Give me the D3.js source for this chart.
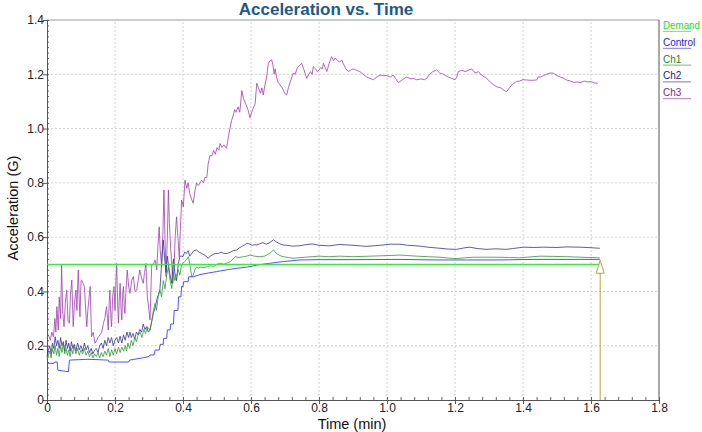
<!DOCTYPE html>
<html>
<head>
<meta charset="utf-8">
<script src="https://cdn.jsdelivr.net/npm/d3@7"></script>
<style>
  body { margin: 0; background: #fff; }
  text { font-family: "Liberation Sans", Arial, sans-serif; }
</style>
</head>
<body>
<svg class="accChart"></svg>
<script>
// data (time in min, acceleration in G)
var xTicks = [0, 0.2, 0.4, 0.6, 0.8, 1.0, 1.2, 1.4, 1.6, 1.8];
var yTicks = [0, 0.2, 0.4, 0.6, 0.8, 1.0, 1.2, 1.4];
var seriesNames = ["Demand", "Control", "Ch1", "Ch2", "Ch3"];

var demand = [[0, 0.5], [1.627, 0.5]];

var control = [[0,0.135],[0.02,0.135],[0.022,0.14],[0.03,0.14],[0.032,0.11],[0.063,0.104],[0.066,0.147],[0.12,0.15],
  [0.18,0.147],[0.183,0.14],[0.24,0.14],[0.243,0.147],[0.28,0.155],[0.30,0.16],[0.303,0.166],[0.315,0.166],[0.318,0.184],
  [0.33,0.184],[0.333,0.205],[0.342,0.205],[0.343,0.227],[0.352,0.227],[0.354,0.258],[0.362,0.258],[0.364,0.28],[0.372,0.28],
  [0.374,0.33],[0.385,0.33],[0.387,0.38],[0.394,0.38],[0.396,0.418],[0.40,0.418],[0.402,0.436],[0.415,0.436],[0.417,0.454],
  [0.43,0.454],[0.45,0.462],[0.475,0.468],[0.499,0.473],[0.53,0.48],[0.558,0.485],[0.59,0.49],[0.617,0.497],[0.65,0.503],
  [0.695,0.51],[0.744,0.516],[0.8,0.517],[0.9,0.517],[1.038,0.518],[1.136,0.516],[1.234,0.516],[1.33,0.516],[1.43,0.518],[1.626,0.518]];

var ch1 = [[0,0.15],[0.004,0.166],[0.008,0.18],[0.012,0.155],[0.016,0.19],[0.02,0.17],[0.024,0.20],[0.028,0.165],[0.032,0.19],
  [0.036,0.16],[0.04,0.2],[0.044,0.175],[0.048,0.21],[0.052,0.17],[0.056,0.19],[0.06,0.165],[0.064,0.185],[0.068,0.16],[0.072,0.19],
  [0.076,0.17],[0.08,0.2],[0.085,0.17],[0.09,0.19],[0.095,0.165],[0.1,0.185],[0.105,0.17],[0.11,0.19],[0.115,0.165],[0.12,0.18],
  [0.125,0.16],[0.13,0.175],[0.135,0.155],[0.14,0.17],[0.145,0.16],[0.15,0.175],[0.155,0.155],[0.16,0.175],[0.165,0.16],[0.17,0.18],
  [0.175,0.165],[0.18,0.19],[0.185,0.16],[0.19,0.185],[0.195,0.165],[0.20,0.19],[0.205,0.17],[0.21,0.195],[0.215,0.175],[0.22,0.195],
  [0.225,0.18],[0.23,0.20],[0.234,0.18],[0.238,0.21],[0.243,0.19],[0.248,0.22],[0.253,0.20],[0.258,0.23],[0.263,0.215],[0.268,0.24],
  [0.274,0.25],[0.279,0.23],[0.285,0.26],[0.29,0.245],[0.295,0.27],[0.303,0.258],[0.308,0.29],[0.313,0.33],[0.318,0.356],[0.322,0.33],
  [0.327,0.38],[0.332,0.405],[0.337,0.38],[0.342,0.44],[0.347,0.41],[0.352,0.46],[0.357,0.49],[0.362,0.44],[0.367,0.41],[0.372,0.47],
  [0.376,0.44],[0.381,0.454],[0.386,0.48],[0.391,0.46],[0.396,0.50],[0.40,0.504],[0.405,0.51],[0.41,0.516],[0.416,0.528],[0.42,0.50],
  [0.426,0.454],[0.43,0.46],[0.435,0.48],[0.44,0.49],[0.445,0.485],[0.45,0.49],[0.46,0.488],[0.47,0.49],[0.48,0.495],[0.49,0.492],
  [0.5,0.50],[0.509,0.504],[0.52,0.50],[0.53,0.505],[0.54,0.51],[0.553,0.528],[0.565,0.525],[0.578,0.528],[0.587,0.53],[0.597,0.534],
  [0.61,0.53],[0.626,0.528],[0.64,0.53],[0.655,0.54],[0.666,0.553],[0.675,0.54],[0.685,0.532],[0.695,0.528],[0.71,0.525],[0.724,0.522],
  [0.74,0.524],[0.76,0.526],[0.78,0.528],[0.80,0.53],[0.83,0.528],[0.86,0.53],[0.90,0.528],[0.95,0.53],[1.0,0.532],[1.038,0.534],
  [1.087,0.53],[1.12,0.528],[1.156,0.526],[1.18,0.523],[1.205,0.521],[1.23,0.524],[1.254,0.526],[1.29,0.526],[1.323,0.526],[1.36,0.525],
  [1.39,0.524],[1.42,0.527],[1.45,0.53],[1.49,0.529],[1.528,0.528],[1.57,0.526],[1.6,0.525],[1.626,0.524]];

var ch2 = [[0,0.16],[0.004,0.184],[0.008,0.20],[0.012,0.17],[0.016,0.21],[0.02,0.19],[0.024,0.233],[0.028,0.20],[0.032,0.22],
  [0.036,0.19],[0.04,0.23],[0.044,0.20],[0.048,0.215],[0.052,0.18],[0.056,0.22],[0.06,0.19],[0.064,0.21],[0.068,0.18],[0.072,0.215],
  [0.076,0.19],[0.08,0.205],[0.085,0.18],[0.09,0.21],[0.095,0.185],[0.10,0.20],[0.105,0.18],[0.11,0.21],[0.115,0.185],[0.12,0.20],
  [0.125,0.175],[0.13,0.19],[0.135,0.17],[0.14,0.184],[0.145,0.19],[0.15,0.175],[0.155,0.20],[0.16,0.21],[0.165,0.19],[0.17,0.22],
  [0.175,0.20],[0.18,0.23],[0.185,0.21],[0.19,0.23],[0.195,0.20],[0.20,0.22],[0.205,0.23],[0.21,0.21],[0.215,0.235],[0.22,0.21],
  [0.225,0.24],[0.23,0.22],[0.235,0.25],[0.24,0.23],[0.244,0.25],[0.248,0.23],[0.253,0.245],[0.258,0.225],[0.263,0.25],[0.268,0.24],
  [0.273,0.26],[0.278,0.25],[0.283,0.28],[0.288,0.26],[0.293,0.27],[0.298,0.25],[0.303,0.258],[0.308,0.29],[0.313,0.32],[0.318,0.34],
  [0.323,0.37],[0.328,0.39],[0.332,0.405],[0.337,0.50],[0.342,0.59],[0.346,0.52],[0.35,0.47],[0.354,0.53],[0.357,0.50],[0.362,0.46],
  [0.367,0.43],[0.372,0.52],[0.376,0.47],[0.381,0.44],[0.386,0.50],[0.391,0.53],[0.396,0.53],[0.40,0.528],[0.405,0.545],[0.41,0.54],
  [0.415,0.55],[0.42,0.53],[0.426,0.54],[0.432,0.55],[0.44,0.553],[0.447,0.545],[0.455,0.54],[0.462,0.535],[0.468,0.53],[0.474,0.522],
  [0.48,0.53],[0.487,0.535],[0.495,0.54],[0.504,0.54],[0.512,0.545],[0.52,0.54],[0.53,0.54],[0.54,0.545],[0.548,0.55],[0.558,0.553],
  [0.565,0.56],[0.572,0.565],[0.58,0.57],[0.587,0.577],[0.595,0.575],[0.603,0.57],[0.61,0.572],[0.617,0.571],[0.625,0.575],[0.635,0.58],
  [0.645,0.574],[0.655,0.58],[0.666,0.59],[0.675,0.582],[0.685,0.575],[0.695,0.571],[0.705,0.57],[0.715,0.568],[0.724,0.567],[0.74,0.568],
  [0.76,0.572],[0.78,0.575],[0.80,0.57],[0.83,0.568],[0.86,0.573],[0.9,0.57],[0.94,0.566],[0.98,0.57],[1.01,0.574],[1.038,0.574],
  [1.06,0.57],[1.097,0.567],[1.12,0.563],[1.156,0.559],[1.18,0.556],[1.205,0.555],[1.225,0.56],[1.244,0.563],[1.265,0.558],[1.293,0.555],
  [1.32,0.557],[1.35,0.555],[1.37,0.558],[1.401,0.563],[1.43,0.562],[1.46,0.563],[1.50,0.562],[1.53,0.564],[1.568,0.563],[1.6,0.561],[1.626,0.559]];

var ch3 = [[0,0.23],[0.004,0.24],[0.010,0.22],[0.014,0.25],[0.019,0.233],[0.023,0.30],[0.026,0.25],[0.029,0.344],[0.033,0.258],
  [0.036,0.38],[0.040,0.30],[0.043,0.497],[0.046,0.33],[0.050,0.27],[0.054,0.36],[0.058,0.405],[0.062,0.29],[0.066,0.283],[0.069,0.39],
  [0.073,0.442],[0.077,0.27],[0.081,0.36],[0.085,0.405],[0.088,0.33],[0.092,0.479],[0.095,0.36],[0.097,0.307],[0.100,0.44],[0.102,0.442],
  [0.106,0.43],[0.110,0.418],[0.113,0.35],[0.117,0.27],[0.120,0.33],[0.124,0.38],[0.127,0.418],[0.131,0.233],[0.136,0.25],[0.141,0.209],
  [0.146,0.22],[0.151,0.233],[0.156,0.24],[0.161,0.25],[0.166,0.283],[0.170,0.30],[0.175,0.344],[0.178,0.30],[0.180,0.258],[0.183,0.36],
  [0.185,0.405],[0.188,0.30],[0.190,0.27],[0.193,0.38],[0.197,0.418],[0.200,0.33],[0.203,0.45],[0.205,0.503],[0.208,0.35],[0.210,0.283],
  [0.213,0.38],[0.215,0.43],[0.218,0.33],[0.220,0.295],[0.223,0.40],[0.225,0.418],[0.227,0.35],[0.229,0.319],[0.233,0.42],[0.236,0.479],
  [0.240,0.42],[0.244,0.393],[0.249,0.44],[0.254,0.455],[0.259,0.40],[0.264,0.405],[0.268,0.44],[0.273,0.479],[0.278,0.45],[0.283,0.43],
  [0.287,0.47],[0.291,0.503],[0.295,0.38],[0.300,0.33],[0.303,0.295],[0.306,0.42],[0.308,0.497],[0.313,0.50],[0.318,0.516],[0.323,0.479],
  [0.326,0.56],[0.330,0.638],[0.333,0.55],[0.337,0.497],[0.341,0.62],[0.344,0.774],[0.347,0.60],[0.350,0.455],[0.354,0.60],[0.357,0.774],
  [0.360,0.65],[0.364,0.553],[0.367,0.50],[0.370,0.43],[0.374,0.50],[0.377,0.602],[0.381,0.675],[0.385,0.60],[0.389,0.528],[0.392,0.62],
  [0.396,0.737],[0.401,0.712],[0.406,0.81],[0.411,0.78],[0.415,0.80],[0.420,0.76],[0.425,0.74],[0.43,0.725],[0.435,0.77],[0.44,0.80],
  [0.445,0.79],[0.45,0.80],[0.455,0.81],[0.46,0.80],[0.465,0.82],[0.47,0.82],[0.474,0.87],[0.479,0.90],[0.485,0.90],[0.49,0.92],
  [0.495,0.905],[0.50,0.93],[0.505,0.92],[0.509,0.945],[0.515,0.93],[0.52,0.94],[0.528,0.927],[0.535,0.98],[0.543,1.03],[0.548,1.05],
  [0.552,1.07],[0.556,1.06],[0.562,1.08],[0.567,1.06],[0.573,1.14],[0.578,1.11],[0.585,1.09],[0.591,1.07],[0.597,1.04],[0.602,1.06],
  [0.608,1.08],[0.612,1.09],[0.617,1.167],[0.622,1.15],[0.628,1.13],[0.632,1.15],[0.636,1.124],[0.641,1.16],[0.646,1.19],[0.651,1.24],
  [0.656,1.25],[0.661,1.253],[0.665,1.23],[0.668,1.2],[0.671,1.22],[0.675,1.19],[0.68,1.17],[0.686,1.16],[0.692,1.15],[0.699,1.13],
  [0.705,1.124],[0.71,1.15],[0.715,1.17],[0.72,1.19],[0.724,1.204],[0.73,1.20],[0.735,1.22],[0.74,1.23],[0.745,1.235],[0.749,1.24],
  [0.755,1.22],[0.76,1.20],[0.764,1.185],[0.77,1.20],[0.775,1.21],[0.78,1.2],[0.783,1.228],[0.79,1.22],[0.795,1.21],[0.80,1.215],
  [0.805,1.225],[0.81,1.22],[0.813,1.24],[0.818,1.225],[0.823,1.21],[0.83,1.24],[0.837,1.265],[0.843,1.25],[0.848,1.26],[0.855,1.25],
  [0.861,1.245],[0.867,1.253],[0.873,1.235],[0.879,1.22],[0.886,1.21],[0.893,1.215],[0.90,1.22],[0.91,1.215],[0.92,1.21],[0.93,1.20],
  [0.94,1.19],[0.95,1.185],[0.96,1.18],[0.97,1.19],[0.98,1.197],[0.99,1.195],[1.00,1.195],[1.01,1.19],[1.018,1.197],[1.025,1.185],
  [1.033,1.17],[1.038,1.173],[1.045,1.18],[1.058,1.19],[1.07,1.183],[1.078,1.185],[1.087,1.18],[1.10,1.183],[1.11,1.18],[1.117,1.185],
  [1.125,1.2],[1.135,1.21],[1.146,1.216],[1.155,1.205],[1.166,1.20],[1.18,1.19],[1.19,1.185],[1.2,1.18],[1.205,1.19],[1.21,1.21],
  [1.22,1.215],[1.23,1.21],[1.24,1.215],[1.249,1.22],[1.255,1.21],[1.262,1.205],[1.269,1.21],[1.28,1.195],[1.293,1.185],[1.305,1.17],
  [1.315,1.16],[1.323,1.154],[1.335,1.15],[1.345,1.14],[1.352,1.136],[1.36,1.15],[1.37,1.165],[1.381,1.173],[1.39,1.175],[1.40,1.18],
  [1.411,1.179],[1.42,1.178],[1.43,1.178],[1.44,1.179],[1.445,1.19],[1.45,1.19],[1.46,1.195],[1.47,1.20],[1.48,1.205],[1.489,1.204],
  [1.50,1.195],[1.51,1.19],[1.52,1.185],[1.528,1.179],[1.54,1.175],[1.55,1.17],[1.56,1.172],[1.568,1.169],[1.58,1.175],[1.59,1.172],
  [1.602,1.173],[1.61,1.168],[1.62,1.167]];

// end marker: arrow at the last sample
var arrowTime = 1.627, arrowTop = 0.515;

function accChart ()
{
	var width = 702, height = 432;
	var margin = {top: 20, right: 43, bottom: 32, left: 47};
	var w = width - margin.left - margin.right,
	    h = height - margin.top - margin.bottom;

	var svg = d3.select(".accChart")
			.attr("width", width)
			.attr("height", height);

	var x = d3.scaleLinear().domain([0, 1.8]).range([margin.left, margin.left + w]);
	var y = d3.scaleLinear().domain([0, 1.4]).range([margin.top + h, margin.top]);

	// grid
	svg.append("g").selectAll("line")
			.data(xTicks.slice(1, -1))
		.enter().append("line")
			.attr("x1", function(d) { return x(d); }).attr("x2", function(d) { return x(d); })
			.attr("y1", y(0)).attr("y2", y(1.4))
			.attr("stroke", "#d0d0d0").attr("stroke-dasharray", "2,2");
	svg.append("g").selectAll("line")
			.data(yTicks.slice(1, -1))
		.enter().append("line")
			.attr("y1", function(d) { return y(d); }).attr("y2", function(d) { return y(d); })
			.attr("x1", x(0)).attr("x2", x(1.8))
			.attr("stroke", "#d0d0d0").attr("stroke-dasharray", "2,2");

	// frame top / right
	svg.append("line").attr("x1", x(0)).attr("x2", x(1.8)).attr("y1", y(1.4)).attr("y2", y(1.4))
			.attr("stroke", "#9a9a9a");
	svg.append("line").attr("x1", x(1.8)).attr("x2", x(1.8)).attr("y1", y(1.4)).attr("y2", y(0))
			.attr("stroke", "#555");

	var fmt = function(d) { return d === 0 ? "0" : d3.format(".1f")(d); };

	// minor ticks
	svg.append("g")
			.attr("transform", "translate(" + x(0) + ",0)")
			.call(d3.axisRight(y).tickValues(d3.range(0, 1.401, 0.02)).tickSize(2).tickFormat(""))
			.call(function(g) { g.select(".domain").remove(); g.selectAll("line").attr("stroke", "#666"); });
	svg.append("g")
			.attr("transform", "translate(0," + y(0) + ")")
			.call(d3.axisTop(x).tickValues(d3.range(0, 1.801, 0.04)).tickSize(3).tickFormat(""))
			.call(function(g) { g.select(".domain").remove(); g.selectAll("line").attr("stroke", "#666"); });

	// axes
	var yAxis = svg.append("g")
			.attr("transform", "translate(" + x(0) + ",0)")
			.call(d3.axisLeft(y).tickValues(yTicks).tickSize(4).tickSizeOuter(0).tickFormat(fmt));
	var xAxis = svg.append("g")
			.attr("transform", "translate(0," + y(0) + ")")
			.call(d3.axisBottom(x).tickValues(xTicks).tickSize(4).tickSizeOuter(0).tickFormat(fmt));
	[xAxis, yAxis].forEach(function(g) {
		g.select(".domain").attr("stroke", "#555");
		g.selectAll(".tick line").attr("stroke", "#555");
		g.selectAll("text").attr("font-size", 12).attr("fill", "#222")
			.attr("font-family", "Liberation Sans, Arial, sans-serif");
	});
	yAxis.selectAll("text").attr("x", -3);
	xAxis.selectAll("text").attr("y", 3);

	// series
	var line = d3.line()
			.x(function(d) { return x(d[0]); })
			.y(function(d) { return y(d[1]); });

	var series = [
		{name: "Ch3", data: ch3, color: "#a040b0", width: 1, op: 0.8},
		{name: "Ch2", data: ch2, color: "#333399", width: 1, op: 0.8},
		{name: "Ch1", data: ch1, color: "#339933", width: 1, op: 0.8},
		{name: "Control", data: control, color: "#3333ff", width: 1, op: 0.85},
		{name: "Demand", data: demand, color: "#33ee33", width: 1.3, op: 1}
	];

	svg.append("g").selectAll("path")
			.data(series)
		.enter().append("path")
			.attr("d", function(d) { return line(d.data); })
			.attr("fill", "none")
			.attr("stroke", function(d) { return d.color; })
			.attr("stroke-width", function(d) { return d.width; })
			.attr("stroke-opacity", function(d) { return d.op; })
			.attr("stroke-linejoin", "round");

	// arrow at end of run
	var ax = x(arrowTime), ayTip = y(arrowTop), ayBase = ayTip + 13;
	svg.append("line")
			.attr("x1", ax).attr("x2", ax).attr("y1", y(0)).attr("y2", ayBase)
			.attr("stroke", "#a8a848");
	svg.append("path")
			.attr("d", "M" + ax + "," + ayTip + "L" + (ax + 4) + "," + ayBase + "L" + (ax - 4) + "," + ayBase + "Z")
			.attr("fill", "#fff").attr("stroke", "#a8a848");

	// title and labels
	svg.append("text")
			.attr("x", 326).attr("y", 15)
			.attr("text-anchor", "middle")
			.attr("font-size", 17).attr("font-weight", "bold")
			.attr("fill", "#1d5a8a")
			.text("Acceleration vs. Time");
	svg.append("text")
			.attr("x", 352).attr("y", 429)
			.attr("text-anchor", "middle")
			.attr("font-size", 14.5).attr("fill", "#111")
			.text("Time (min)");
	svg.append("text")
			.attr("transform", "translate(18," + 208 + ") rotate(-90)")
			.attr("text-anchor", "middle")
			.attr("font-size", 14.5).attr("fill", "#111")
			.text("Acceleration (G)");

	// legend
	var legColors = {Demand: "#22dd22", Control: "#2222ee", Ch1: "#228822", Ch2: "#222288", Ch3: "#882288"};
	var leg = svg.append("g").selectAll("g")
			.data(seriesNames)
		.enter().append("g")
			.attr("transform", function(d, i) { return "translate(663," + (29 + i * 16.8) + ")"; });
	leg.append("text")
			.attr("font-size", 10)
			.attr("textLength", function(d) { return d === "Demand" ? 37 : null; })
			.attr("lengthAdjust", "spacingAndGlyphs")
			.attr("fill", function(d) { return legColors[d]; })
			.text(function(d) { return d; });
	leg.append("line")
			.attr("x1", 0).attr("x2", 28).attr("y1", 2.5).attr("y2", 2.5)
			.attr("stroke", function(d) { return legColors[d]; })
			.attr("stroke-opacity", 0.6);
}

accChart();
</script>
</body>
</html>
